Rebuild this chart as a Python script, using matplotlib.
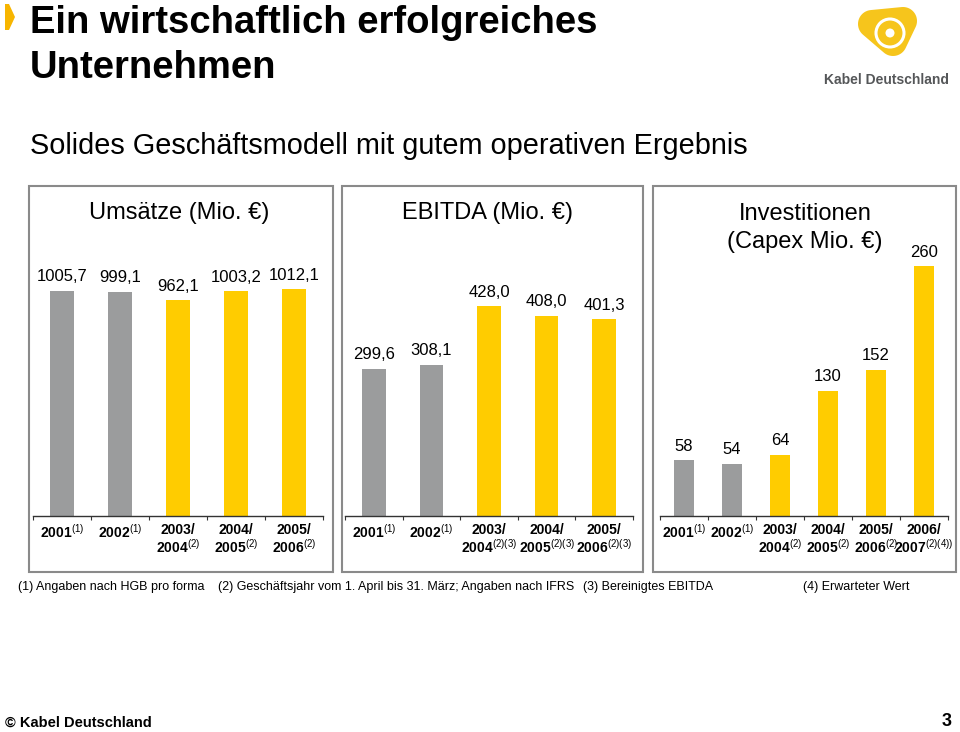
import numpy as np
import matplotlib.pyplot as plt
from matplotlib.patches import Rectangle, Polygon, Circle

plt.rcParams['font.family'] = ['Liberation Sans', 'DejaVu Sans']
plt.rcParams['mathtext.fontset'] = 'custom'
plt.rcParams['mathtext.rm'] = 'Liberation Sans'
plt.rcParams['mathtext.bf'] = 'Liberation Sans:bold'
plt.rcParams['mathtext.it'] = 'Liberation Sans:italic'

GRAY = '#9b9c9d'
YELLOW = '#ffcc00'
W, H = 960, 732

# ---- data ----
umsatz_values = [1005.7, 999.1, 962.1, 1003.2, 1012.1]
umsatz_ticks = [r'$\mathbf{2001}^{\mathrm{(1)}}$',
                r'$\mathbf{2002}^{\mathrm{(1)}}$',
                '2003/\n' + r'$\mathbf{2004}^{\mathrm{(2)}}$',
                '2004/\n' + r'$\mathbf{2005}^{\mathrm{(2)}}$',
                '2005/\n' + r'$\mathbf{2006}^{\mathrm{(2)}}$']

ebitda_values = [299.6, 308.1, 428.0, 408.0, 401.3]
ebitda_ticks = [r'$\mathbf{2001}^{\mathrm{(1)}}$',
                r'$\mathbf{2002}^{\mathrm{(1)}}$',
                '2003/\n' + r'$\mathbf{2004}^{\mathrm{(2)(3)}}$',
                '2004/\n' + r'$\mathbf{2005}^{\mathrm{(2)(3)}}$',
                '2005/\n' + r'$\mathbf{2006}^{\mathrm{(2)(3)}}$']

capex_values = [58, 54, 64, 130, 152, 260]
capex_ticks = [r'$\mathbf{2001}^{\mathrm{(1)}}$',
               r'$\mathbf{2002}^{\mathrm{(1)}}$',
               '2003/\n' + r'$\mathbf{2004}^{\mathrm{(2)}}$',
               '2004/\n' + r'$\mathbf{2005}^{\mathrm{(2)}}$',
               '2005/\n' + r'$\mathbf{2006}^{\mathrm{(2)}}$',
               '2006/\n' + r'$\mathbf{2007}^{\mathrm{(2)(4))}}$']

# first two years HGB (gray), later IFRS (yellow)
n_hgb = 2

footnotes = ['(1) Angaben nach HGB pro forma',
             '(2) Geschäftsjahr vom 1. April bis 31. März; Angaben nach IFRS',
             '(3) Bereinigtes EBITDA',
             '(4) Erwarteter Wert']


def fx(x):
    return x / W


def fy(y):
    return 1 - y / H


fig = plt.figure(figsize=(9.6, 7.32), dpi=100)


def draw_panel(left, right, values, ticks, ymax, fmt):
    base, top = 516, 240
    ax = fig.add_axes([fx(left), fy(base), fx(right - left), (base - top) / H])
    n = len(values)
    x = np.arange(n)
    colors = [GRAY if i < n_hgb else YELLOW for i in range(n)]
    bars = ax.bar(x, values, width=0.41, color=colors)
    for b, v in zip(bars, values):
        ax.annotate(fmt(v), (b.get_x() + b.get_width() / 2, v),
                    xytext=(0, 7), textcoords='offset points',
                    ha='center', va='baseline', fontsize=12)
    ax.set_xlim(-0.5, n - 0.5)
    ax.set_ylim(0, ymax)
    ax.set_xticks(x)
    ax.set_xticklabels(ticks, fontsize=10, fontweight='bold', linespacing=1.05)
    ax.set_xticks(np.arange(n + 1) - 0.5, minor=True)
    ax.tick_params(axis='x', which='major', length=0, pad=5)
    ax.tick_params(axis='x', which='minor', length=3, width=0.8, color='#333333')
    ax.set_yticks([])
    for s in ['top', 'right', 'left']:
        ax.spines[s].set_visible(False)
    ax.spines['bottom'].set_color('#333333')
    ax.spines['bottom'].set_linewidth(1)
    ax.patch.set_alpha(0)
    return ax


dec = lambda v: f'{v:.1f}'.replace('.', ',')
draw_panel(33, 323, umsatz_values, umsatz_ticks, 276 / 0.224, dec)
draw_panel(345, 633, ebitda_values, ebitda_ticks, 276 / 0.49, dec)
draw_panel(660, 948, capex_values, capex_ticks, 276 / 0.96, lambda v: f'{v:.0f}')

# panel frames
for l, r in [(29, 333), (342, 643), (653, 956)]:
    fig.add_artist(Rectangle((fx(l), fy(572)), fx(r - l), (572 - 186) / H,
                             transform=fig.transFigure, fill=False,
                             edgecolor='#8a8a8a', linewidth=1.5))

# panel titles
fig.text(fx(179), fy(213), 'Umsätze (Mio. €)', ha='center', va='center', fontsize=17)
fig.text(fx(487), fy(213), 'EBITDA (Mio. €)', ha='center', va='center', fontsize=17)
fig.text(fx(805), fy(228), 'Investitionen\n(Capex Mio. €)', ha='center',
         va='center', fontsize=17, linespacing=1.3)

# headline
fig.text(fx(30), fy(23), 'Ein wirtschaftlich erfolgreiches', ha='left',
         va='center', fontsize=27.5, fontweight='bold')
fig.text(fx(30), fy(68), 'Unternehmen', ha='left', va='center',
         fontsize=27.5, fontweight='bold')
fig.text(fx(30), fy(146), 'Solides Geschäftsmodell mit gutem operativen Ergebnis',
         ha='left', va='center', fontsize=20.8)

# chevron
fig.add_artist(Polygon([(fx(5), fy(4)), (fx(9), fy(4)), (fx(15), fy(17)),
                        (fx(9), fy(30)), (fx(5), fy(30))],
                       closed=True, transform=fig.transFigure,
                       facecolor='#f7b500', edgecolor='none'))

# logo: rounded triangle with ring
lax = fig.add_axes([fx(815), fy(100), fx(145), 100 / H])
lax.set_xlim(815, 960)
lax.set_ylim(100, 0)
lax.axis('off')
tri = np.array([(872, 24), (903, 21), (893, 42)], dtype=float)
rad = 14
outline = []
for i in range(3):
    p_prev, p, p_next = tri[i - 1], tri[i], tri[(i + 1) % 3]
    a0 = np.arctan2(*(p - p_prev)[::-1]) - np.pi / 2
    a1 = np.arctan2(*(p_next - p)[::-1]) - np.pi / 2
    if a1 < a0:
        a1 += 2 * np.pi
    for a in np.linspace(a0, a1, 20):
        outline.append(p + rad * np.array([np.cos(a), np.sin(a)]))
outline = np.array(outline)
lax.add_patch(Polygon(outline, closed=True, facecolor='#f6c51c', edgecolor='none'))
lax.add_patch(Circle((890, 33), 14, facecolor='none', edgecolor='white', linewidth=2.2))
lax.add_patch(Circle((890, 33), 4.5, facecolor='white', edgecolor='none'))
lax.text(886, 80, 'Kabel Deutschland', ha='center', va='center', fontsize=10,
         fontweight='bold', color='#555759')

# footnotes
for xp, t in zip([18, 218, 583, 803], footnotes):
    fig.text(fx(xp), fy(587), t, ha='left', va='center', fontsize=9)

# footer
fig.text(fx(5), fy(723), '© Kabel Deutschland', ha='left', va='center',
         fontsize=10.5, fontweight='bold')
fig.text(fx(952), fy(722), '3', ha='right', va='center', fontsize=13, fontweight='bold')

fig.savefig('out.png', dpi=100)
